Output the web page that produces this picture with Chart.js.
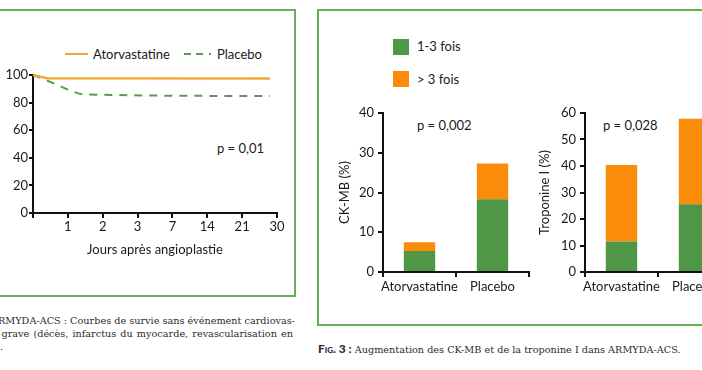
<!DOCTYPE html>
<html>
<head>
<meta charset="utf-8">
<script src="https://cdn.jsdelivr.net/npm/chart.js@4"></script>
<style>
    body { margin: 0; width: 702px; height: 370px; overflow: hidden; background: #fff; position: relative; font-family: Lato, sans-serif; color: #1a1a1a; }
    .box { position: absolute; border: 2px solid #6aae5a; box-sizing: border-box; }
    .wrap { position: absolute; }
    .txt { position: absolute; font-size: 13px; line-height: 16px; white-space: nowrap; }
    .cap { position: absolute; font-family: "DejaVu Serif", serif; font-size: 9.7px; line-height: 13px; white-space: nowrap; color: #2a2a2a; }
    .sq { position: absolute; width: 16px; height: 16px; }
</style>
</head>
<body>

<!-- left panel -->
<div class="box" style="left:-20px; top:9px; width:316px; height:288px;"></div>
<div style="position:absolute; left:65px; top:53px; width:23px; border-top:2px solid #f2a93b;"></div>
<div class="txt" style="left:93px; top:46px;">Atorvastatine</div>
<div style="position:absolute; left:184px; top:53px; width:7px; border-top:2px solid #5a9a4e;"></div>
<div style="position:absolute; left:196px; top:53px; width:7px; border-top:2px solid #5a9a4e;"></div>
<div style="position:absolute; left:209px; top:53px; width:2px; border-top:2px solid #5a9a4e;"></div>
<div class="txt" style="left:217px; top:46px;">Placebo</div>
<div class="txt" style="left:217px; top:140px;">p = 0,01</div>
<div class="wrap" style="left:0; top:62px; width:292px; height:200px;"><canvas id="survie"></canvas></div>

<div class="cap" style="right:407px; top:314px;">FIG. 2 : ARMYDA-ACS : Courbes de survie sans événement cardiovas-</div>
<div class="cap" style="right:409px; top:327px; word-spacing:1px;">culaire grave (décès, infarctus du myocarde, revascularisation en</div>
<div class="cap" style="right:699px; top:340px;">urgence).</div>

<!-- right panel -->
<div class="box" style="left:317px; top:9px; width:420px; height:317px;"></div>
<div class="sq" style="left:393px; top:39px; background:#4f9646;"></div>
<div class="txt" style="left:417px; top:38px;">1-3 fois</div>
<div class="sq" style="left:393px; top:71px; background:#fb8c0a;"></div>
<div class="txt" style="left:417px; top:71px;">&gt; 3 fois</div>
<div class="txt" style="left:417px; top:117px;">p = 0,002</div>
<div class="txt" style="left:603px; top:117px;">p = 0,028</div>
<div class="wrap" style="left:330px; top:100px; width:210px; height:200px;"><canvas id="ckmb"></canvas></div>
<div class="wrap" style="left:532px; top:100px; width:210px; height:200px;"><canvas id="tropo"></canvas></div>

<div class="cap" style="left:318px; top:342px;"><span style="font-family:Lato,sans-serif; font-weight:900; font-variant:small-caps; font-size:12px;">Fig. 3 :</span> Augmentation des CK-MB et de la troponine I dans ARMYDA-ACS.</div>

<script>
// survival curves (x = position on the day axis, 0 = angioplasty)
const dayLabels = ['', '1', '2', '3', '7', '14', '21', '30'];
const atorvaX = [0, 0.4, 6.8];
const atorvaY = [100, 97.6, 97.4];
const placeboX = [0, 0.35, 0.7, 1.05, 1.45, 6.8];
const placeboY = [100, 96.5, 92.8, 89, 86, 84.8];

// bar charts
const groups = ['Atorvastatine', 'Placebo'];
const ckLow = [5.3, 18.3];
const ckHigh = [2.2, 9.0];
const tropLow = [11.5, 25.6];
const tropHigh = [28.9, 32.2];

const ink = '#1a1a1a';
const axisCol = '#111';
Chart.defaults.font.family = 'Lato, sans-serif';
Chart.defaults.font.size = 13;
Chart.defaults.color = ink;
Chart.defaults.animation = false;

const toPoints = (xs, ys) => xs.map((x, i) => ({ x: x, y: ys[i] }));

new Chart(document.getElementById('survie'), {
    type: 'line',
    data: {
        datasets: [
            {
                label: 'Atorvastatine',
                data: toPoints(atorvaX, atorvaY),
                borderColor: '#f2a93b',
                borderWidth: 2.5,
                pointRadius: 0,
                clip: false
            },
            {
                label: 'Placebo',
                data: toPoints(placeboX, placeboY),
                borderColor: '#5a9a4e',
                borderWidth: 2,
                borderDash: [8, 7],
                pointRadius: 0,
                cubicInterpolationMode: 'monotone',
                clip: false
            }
        ]
    },
    options: {
        responsive: true,
        maintainAspectRatio: false,
        layout: { padding: { top: 13, right: 15, left: 0, bottom: 0 } },
        plugins: { legend: { display: false }, tooltip: { enabled: false } },
        scales: {
            x: {
                type: 'linear', min: 0, max: 7,
                afterFit: s => { s.height = 49; },
                ticks: { stepSize: 1, autoSkip: false, padding: 1, maxRotation: 0, callback: v => dayLabels[v] },
                grid: { drawOnChartArea: false, tickLength: 5, color: axisCol, lineWidth: 2 },
                border: { color: axisCol, width: 2 },
                title: { display: true, text: 'Jours après angioplastie', padding: { top: 0, bottom: 4 } }
            },
            y: {
                min: 0, max: 100,
                afterFit: s => { s.width = 33; },
                ticks: { stepSize: 20, padding: 1 },
                grid: { drawOnChartArea: false, tickLength: 4, color: axisCol, lineWidth: 2 },
                border: { color: axisCol, width: 2 }
            }
        }
    }
});

function barChart(id, low, high, max, yTitle, titlePad) {
    return new Chart(document.getElementById(id), {
        type: 'bar',
        data: {
            labels: groups,
            datasets: [
                { label: '1-3 fois', data: low, backgroundColor: '#4f9646' },
                { label: '> 3 fois', data: high, backgroundColor: '#fb8c0a' }
            ]
        },
        options: {
            responsive: true,
            maintainAspectRatio: false,
            barPercentage: 0.43,
            categoryPercentage: 1,
            layout: { padding: { top: 13, right: 11, left: 0, bottom: 0 } },
            plugins: { legend: { display: false }, tooltip: { enabled: false } },
            scales: {
                x: {
                    stacked: true,
                    afterFit: s => { s.height = 28; },
                    ticks: { padding: 2, maxRotation: 0, autoSkip: false },
                    grid: { offset: true, drawOnChartArea: false, tickLength: 5, color: axisCol, lineWidth: 2 },
                    border: { color: axisCol, width: 2 }
                },
                y: {
                    stacked: true, min: 0, max: max,
                    afterFit: s => { s.width = 53; },
                    ticks: { stepSize: 10, padding: 4 },
                    grid: { drawOnChartArea: false, tickLength: 5, color: axisCol, lineWidth: 2 },
                    border: { color: axisCol, width: 2 },
                    title: { display: true, text: yTitle, padding: { top: titlePad, bottom: 0 } }
                }
            }
        }
    });
}

barChart('ckmb', ckLow, ckHigh, 40, 'CK-MB (%)', 7);
barChart('tropo', tropLow, tropHigh, 60, 'Troponine I (%)', 5);
</script>
</body>
</html>
